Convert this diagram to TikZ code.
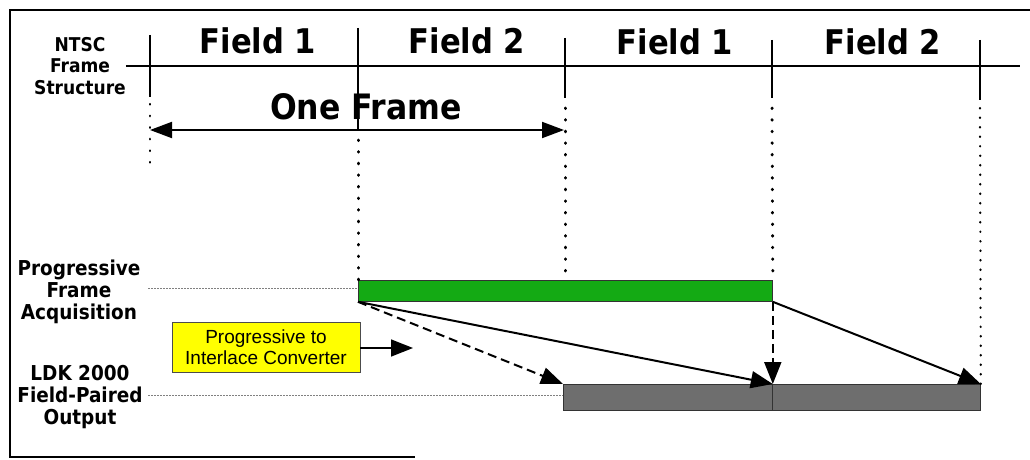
\documentclass[tikz,border=0pt]{standalone}
\usepackage{fontspec}
\usetikzlibrary{arrows.meta}
\newfontfamily\lblfont{DejaVu Sans Condensed}
\newfontfamily\boxfont{Liberation Sans}
\definecolor{acqgreen}{RGB}{20,170,20}
\definecolor{outgray}{RGB}{110,110,110}
\definecolor{convyellow}{RGB}{255,255,0}
\tikzset{
  side/.style={font=\lblfont\bfseries\fontsize{20.5}{22}\selectfont, align=center, inner sep=0pt},
  fieldlbl/.style={font=\lblfont\bfseries\fontsize{34}{36}\selectfont, inner sep=0pt},
  tick/.style={line width=1.2pt},
  dotline/.style={line width=3pt, dash pattern=on 0.6pt off 11pt, line cap=round},
  fineline/.style={line width=1pt, gray, dash pattern=on 1.5pt off 1.5pt},
  bar/.style={draw=black!80, line width=0.8pt, inner sep=0pt, anchor=north west},
  flow/.style={line width=2pt, -{Triangle[length=22pt,width=17pt]}},
  flowdash/.style={flow, dash pattern=on 9pt off 5pt},
}
\begin{document}
\begin{tikzpicture}[x=1pt,y=-1pt]
\useasboundingbox (0,0) rectangle (1030,460);
% outer frame
\draw[line width=1.5pt] (1030,10) -- (10,10) -- (10,457) -- (415,457);

% NTSC time line
\node[side, font=\lblfont\bfseries\fontsize{19}{21.5}\selectfont] (ntsc) at (80,66) {NTSC\\Frame\\Structure};
\coordinate (lineR) at (1020,66);
\draw[line width=1.5pt] (ntsc.east |- 0,66) -- (lineR);

% field boundaries
\coordinate (b0) at (150,35);
\coordinate (b1) at (358,28);
\coordinate (b2) at (565,38);
\coordinate (b3) at (772,40);
\coordinate (b4) at (980,40);
\draw[tick] (b0) -- (150,97);
\draw[tick] (b1) -- (358,130);
\draw[tick] (b2) -- (565,98);
\draw[tick] (b3) -- (772,98);
\draw[tick] (b4) -- (980,100);

\node[fieldlbl] (f1a) at (258,41) {Field 1};
\node[fieldlbl] (f2a) at (467,41) {Field 2};
\node[fieldlbl] (f1b) at (675,42) {Field 1};
\node[fieldlbl] (f2b) at (883,42) {Field 2};

% one frame span
\node[font=\lblfont\bfseries\fontsize{35}{40}\selectfont, inner sep=0pt] (oneframe) at (366,107) {One Frame};
\coordinate (ofL) at (150,130);
\coordinate (ofR) at (564,130);
\draw[line width=2pt, {Triangle[length=22pt,width=16pt]}-{Triangle[length=22pt,width=16pt]}] (ofL) -- (ofR);

% bars
\node[bar, fill=acqgreen, minimum width=414pt, minimum height=21pt] (acq) at (358,280) {};
\node[bar, fill=outgray, minimum width=209pt, minimum height=26pt] (outA) at (563,384) {};
\node[bar, fill=outgray, minimum width=208pt, minimum height=26pt] (outB) at (772,384) {};

% dotted drop lines
\draw[dotline, line width=2.2pt] (150,104) -- (150,168);
\draw[dotline] (358,140) -- (acq.north west);
\draw[dotline] (565,108) -- (565,274);
\draw[dotline] (772,108) -- (acq.north east);
\draw[dotline, line width=2.2pt, dash pattern=on 0.5pt off 9pt] (980,108) -- (outB.north east);

% row labels
\node[side] (prog) at (79,292) {Progressive\\Frame\\Acquisition};
\node[side] (ldk) at (80,397) {LDK 2000\\Field-Paired\\Output};
\draw[fineline] (148,288) -- (acq.west |- 0,288);
\draw[fineline] (148,395) -- (outA.west |- 0,395);

% converter
\node[draw=black!70, line width=0.8pt, fill=convyellow, inner sep=0pt, minimum width=188pt, minimum height=50pt,
      align=center, font=\boxfont\fontsize{19}{21}\selectfont] (conv) at (266,347) {Progressive to\\Interlace Converter};
\coordinate (convTo) at (413,348);
\draw[flow, line width=1.5pt] (conv.east |- convTo) -- (convTo);

% field pairing
\draw[flowdash] (acq.south west) -- (outA.north west);
\draw[flow] (acq.south west) -- (outA.north east);
\draw[flow] (acq.south east) -- (outB.north east);
\draw[flowdash] (acq.south east) -- (outA.north east);
\end{tikzpicture}
\end{document}
